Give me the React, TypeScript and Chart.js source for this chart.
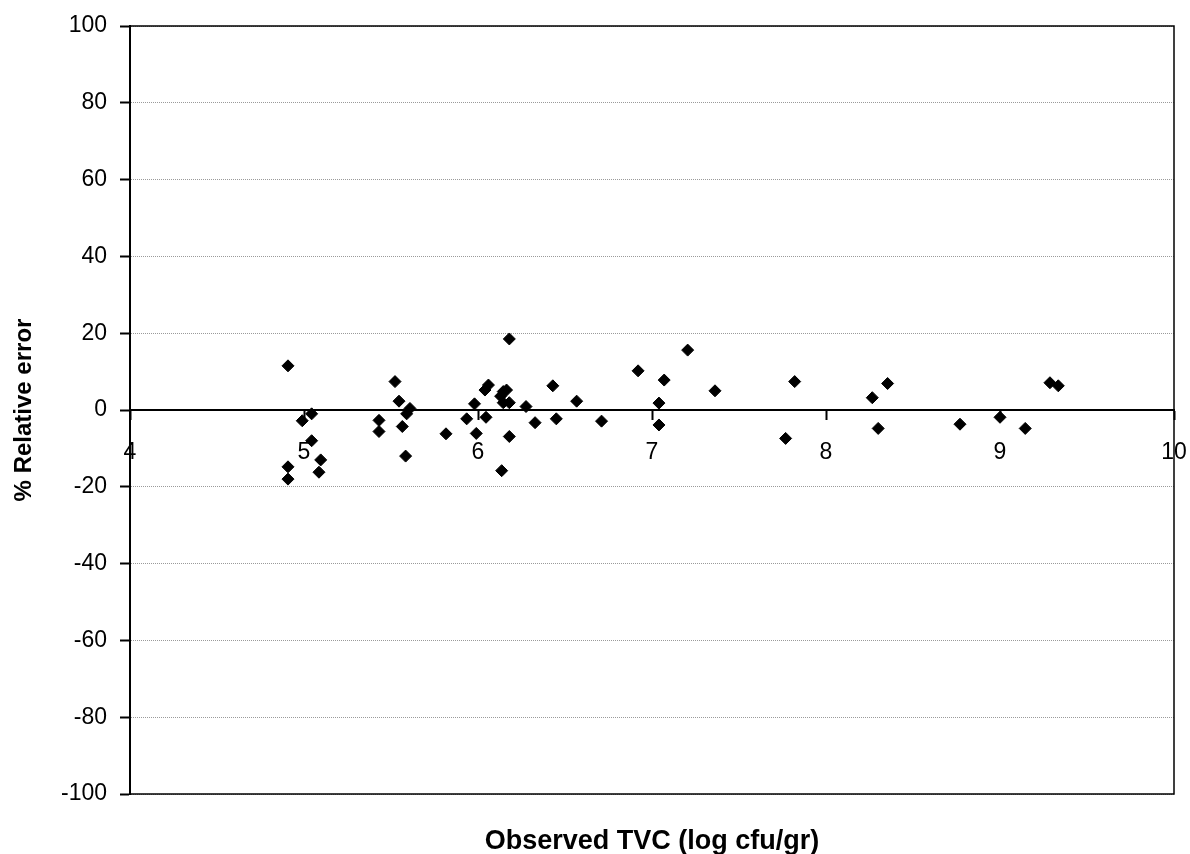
import React, { useEffect, useRef } from "react";
import Chart from "chart.js/auto";

const observedTVC: number[] = [
  4.908, 4.99, 5.044, 5.044, 5.096, 5.086, 4.908, 4.908,
  5.431, 5.431, 5.523, 5.546, 5.609, 5.59, 5.565, 5.584,
  5.816, 5.935, 6.18, 6.92, 6.06, 6.04, 6.145, 6.164,
  6.13, 6.145, 6.18, 5.98, 6.276, 6.43, 6.567, 6.046,
  6.328, 6.45, 6.71, 5.99, 6.18, 6.136, 7.205, 7.07,
  7.362, 7.04, 7.04, 7.82, 7.768, 8.266, 8.354, 8.3,
  8.77, 9.0, 9.145, 9.287, 9.335,
];

const relativeError: number[] = [
  11.5, -2.8, -1.0, -8.0, -13.0, -16.2, -14.8, -18.0,
  -2.7, -5.6, 7.4, 2.3, 0.4, -1.0, -4.3, -12.0,
  -6.2, -2.3, 18.5, 10.2, 6.5, 5.2, 4.8, 5.2,
  3.6, 1.9, 1.9, 1.6, 0.9, 6.3, 2.3, -1.9,
  -3.3, -2.3, -2.9, -6.1, -6.9, -15.8, 15.6, 7.8,
  5.0, 1.8, -3.9, 7.4, -7.4, 3.2, 6.9, -4.8,
  -3.7, -1.9, -4.8, 7.1, 6.3,
];

const xTicks: number[] = [4, 5, 6, 7, 8, 9, 10];
const yTicks: number[] = [-100, -80, -60, -40, -20, 0, 20, 40, 60, 80, 100];

const xTitle = "Observed TVC (log cfu/gr)";
const yTitle = "% Relative error";

const FONT = "'Liberation Sans', Arial, Helvetica, sans-serif";

const framePlugin = {
  id: "frame",
  afterDatasetsDraw(chart: any) {
    const { ctx, chartArea } = chart;
    ctx.save();
    ctx.strokeStyle = "#000";
    ctx.lineWidth = 1.5;
    ctx.strokeRect(chartArea.left, chartArea.top, chartArea.right - chartArea.left, chartArea.bottom - chartArea.top);
    ctx.restore();
  },
};

export default function App() {
  const ref = useRef<HTMLCanvasElement | null>(null);
  useEffect(() => {
    if (!ref.current) return;
    const points = observedTVC.map((x, i) => ({ x, y: relativeError[i] }));
    const chart = new Chart(ref.current, {
      type: "scatter",
      data: {
        datasets: [
          {
            data: points,
            pointStyle: "rectRot",
            pointRadius: 6,
            pointBorderWidth: 1,
            backgroundColor: "#000",
            borderColor: "#000",
          },
        ],
      },
      options: {
        responsive: false,
        animation: false,
        devicePixelRatio: 1,
        layout: { padding: { left: 0, right: 16, top: 26, bottom: 0 } },
        plugins: {
          legend: { display: false },
          tooltip: { enabled: false },
          title: {
            display: true,
            position: "bottom",
            fullSize: false,
            text: xTitle,
            color: "#000",
            font: { family: FONT, size: 27, weight: "bold", lineHeight: 0.9 },
            padding: { top: 35.7, bottom: 0 },
          },
        },
        scales: {
          x: {
            type: "linear",
            position: { y: 0 },
            min: 4,
            max: 10,
            afterBuildTicks: (scale: any) => {
              scale.ticks = xTicks.map((v) => ({ value: v }));
            },
            afterFit: (scale: any) => {
              scale.paddingLeft = 0;
              scale.paddingRight = 0;
            },
            ticks: {
              color: "#000",
              font: { family: FONT, size: 23 },
              padding: 20,
              maxRotation: 0,
            },
            grid: {
              drawOnChartArea: false,
              drawTicks: true,
              tickLength: 9,
              tickColor: "#000",
              tickWidth: 2,
            },
            border: { display: true, color: "#000", width: 2 },
          },
          y: {
            type: "linear",
            min: -100,
            max: 100,
            afterBuildTicks: (scale: any) => {
              scale.ticks = yTicks.map((v) => ({ value: v }));
            },
            afterFit: (scale: any) => {
              scale.width = 130;
              scale.paddingTop = 0;
              scale.paddingBottom = 0;
            },
            ticks: {
              color: "#000",
              font: { family: FONT, size: 23 },
              padding: 13,
            },
            grid: {
              color: "#9a9a9a",
              lineWidth: 1,
              tickLength: 10,
              tickColor: "#000",
              tickWidth: 2,
              tickBorderDash: [],
            },
            border: { display: true, color: "#000", width: 2, dash: [1, 1] },
            title: {
              display: true,
              text: yTitle,
              color: "#000",
              font: { family: FONT, size: 24, weight: "bold", lineHeight: 1.2 },
              padding: { top: 10, bottom: 0 },
            },
          },
        },
      },
      plugins: [framePlugin],
    } as any);
    return () => chart.destroy();
  }, []);
  return (
    <div style={{ position: "fixed", left: 0, top: 0, width: 1190, height: 854, background: "#fff" }}>
      <canvas ref={ref} width={1190} height={854} style={{ display: "block" }} />
    </div>
  );
}
